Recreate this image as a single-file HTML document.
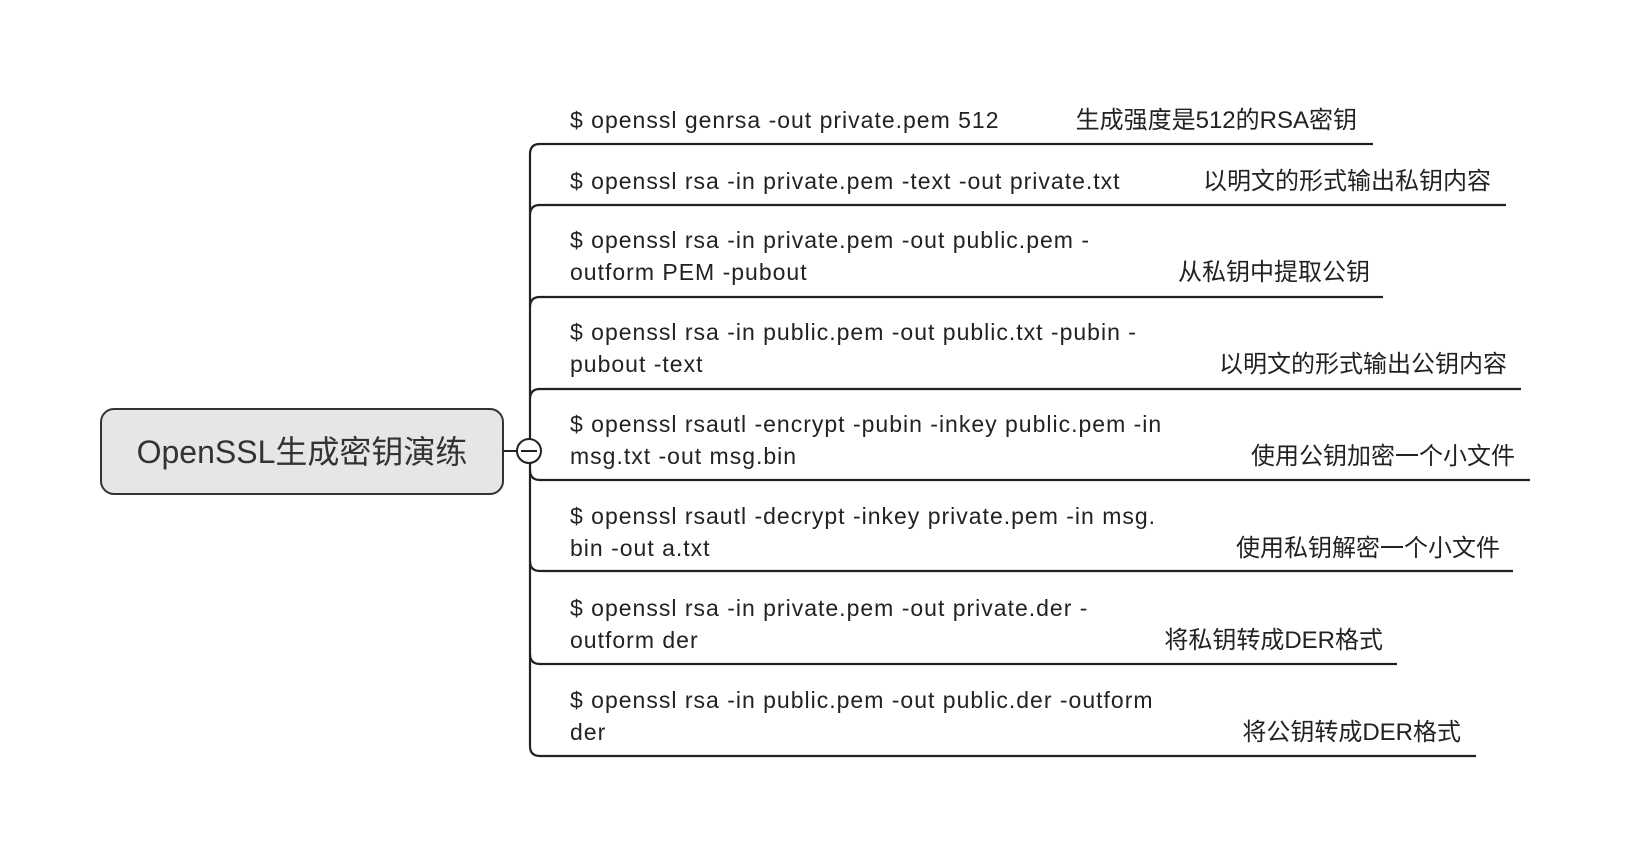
<!DOCTYPE html>
<html><head><meta charset="utf-8"><style>
html,body{margin:0;padding:0;background:#fff;}
svg{display:block;}
text{font-family:"Liberation Sans","Noto Sans CJK SC",sans-serif;fill:#222;font-size:23px;}
text.c{letter-spacing:1px;}
text.z{font-size:24px;}
</style></head><body>
<svg width="1626" height="858" viewBox="0 0 1626 858">
<rect x="101" y="409" width="402" height="85" rx="13" fill="#e6e6e6" stroke="#333" stroke-width="2"/>
<text x="302" y="463" text-anchor="middle" style="font-size:32px;fill:#333">OpenSSL生成密钥演练</text>
<line x1="503" y1="451" x2="530" y2="451" stroke="#222" stroke-width="2"/>
<g fill="none" stroke="#222" stroke-width="2.2">
<line x1="530" y1="154" x2="530" y2="746"/>
<path d="M530,154 Q530,144 540,144 L1373,144"/>
<path d="M530,215 Q530,205 540,205 L1506,205"/>
<path d="M530,307 Q530,297 540,297 L1383,297"/>
<path d="M530,399 Q530,389 540,389 L1521,389"/>
<path d="M530,470 Q530,480 540,480 L1530,480"/>
<path d="M530,561 Q530,571 540,571 L1513,571"/>
<path d="M530,654 Q530,664 540,664 L1397,664"/>
<path d="M530,746 Q530,756 540,756 L1476,756"/>
</g>
<circle cx="529" cy="451" r="12" fill="#fff" stroke="#222" stroke-width="2"/>
<line x1="521" y1="451" x2="537" y2="451" stroke="#222" stroke-width="2"/>
<g>
<text class="c" x="570" y="128">$ openssl genrsa -out private.pem 512</text>
<text class="z" x="1357" y="128" text-anchor="end">生成强度是512的RSA密钥</text>
<text class="c" x="570" y="189">$ openssl rsa -in private.pem -text -out private.txt</text>
<text class="z" x="1491" y="189" text-anchor="end">以明文的形式输出私钥内容</text>
<text class="c" x="570" y="248">$ openssl  rsa -in private.pem -out public.pem -</text>
<text class="c" x="570" y="280">outform PEM -pubout</text>
<text class="z" x="1370" y="280" text-anchor="end">从私钥中提取公钥</text>
<text class="c" x="570" y="340">$ openssl rsa -in public.pem -out public.txt -pubin -</text>
<text class="c" x="570" y="372">pubout -text</text>
<text class="z" x="1507" y="372" text-anchor="end">以明文的形式输出公钥内容</text>
<text class="c" x="570" y="432">$ openssl rsautl -encrypt -pubin -inkey public.pem -in</text>
<text class="c" x="570" y="464">msg.txt -out msg.bin</text>
<text class="z" x="1515" y="464" text-anchor="end">使用公钥加密一个小文件</text>
<text class="c" x="570" y="524">$ openssl rsautl -decrypt -inkey private.pem -in msg.</text>
<text class="c" x="570" y="556">bin -out a.txt</text>
<text class="z" x="1500" y="556" text-anchor="end">使用私钥解密一个小文件</text>
<text class="c" x="570" y="616">$ openssl rsa -in private.pem -out private.der -</text>
<text class="c" x="570" y="648">outform der</text>
<text class="z" x="1383" y="648" text-anchor="end">将私钥转成DER格式</text>
<text class="c" x="570" y="708">$ openssl rsa -in public.pem -out public.der -outform</text>
<text class="c" x="570" y="740">der</text>
<text class="z" x="1461" y="740" text-anchor="end">将公钥转成DER格式</text>
</g>
</svg>
</body></html>
